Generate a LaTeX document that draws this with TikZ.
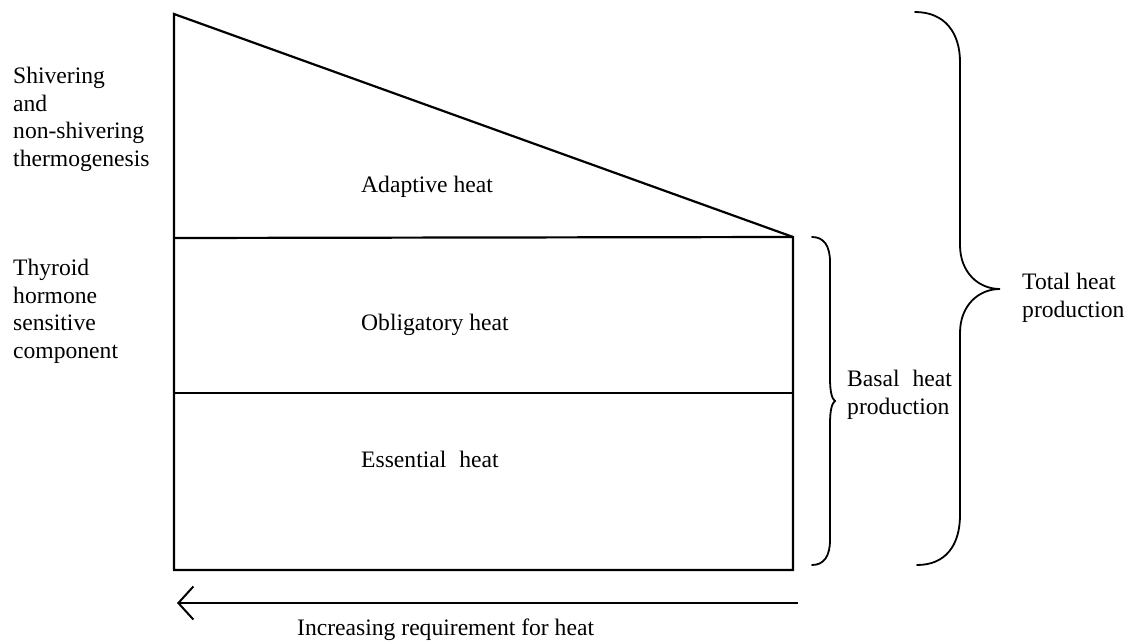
\documentclass[tikz,border=0pt]{standalone}
\usepackage{fontspec}
\setmainfont{Liberation Serif}
\usetikzlibrary{arrows.meta}
\begin{document}
\begin{tikzpicture}[x=1pt,y=-1pt,
  shapeline/.style={line width=2.2pt, line join=miter},
  braceline/.style={line width=1.8pt, line cap=round},
  lbl/.style={inner sep=0pt, font=\fontsize{23.6}{27.5}\selectfont},
  side/.style={lbl, align=left, anchor=north west},
]
\useasboundingbox (0,0) rectangle (1141,642);
% frame
\coordinate (TL) at (174,14);
\coordinate (BL) at (174,570);
\coordinate (BR) at (793,570);
\coordinate (TR) at (793,237);
\coordinate (ML) at (174,238);
\coordinate (LL) at (174,393);
\coordinate (LR) at (793,393);
\draw[shapeline] (TL) -- (BL) -- (BR) -- (TR) -- cycle;
\draw[shapeline] (ML) -- (TR);
\draw[shapeline] (LL) -- (LR);
% arrow
\coordinate (AS) at (798,603);
\coordinate (AE) at (177,603);
\draw[line width=2.2pt, -{Straight Barb[length=15pt,width=33pt,line width=2pt]}] (AS) -- (AE);
% basal brace
\coordinate (BBt) at (812,237);
\coordinate (BBm) at (835,401);
\coordinate (BBb) at (812,565);
\draw[braceline] (BBt) .. controls (824,237) and (830,246) .. (830,262)
  -- (830,378) .. controls (830,392) and (832,399) .. (BBm)
  .. controls (832,403) and (830,410) .. (830,424)
  -- (830,540) .. controls (830,556) and (824,565) .. (BBb);
% total brace
\coordinate (TBt) at (915,12);
\coordinate (TBm) at (1000,289);
\coordinate (TBb) at (917,565);
\draw[braceline] (TBt) .. controls (945,12) and (960,33) .. (960,62)
  -- (960,245) .. controls (960,272) and (978,289) .. (TBm)
  .. controls (978,289) and (960,306) .. (960,333)
  -- (960,515) .. controls (960,546) and (945,565) .. (TBb);
% labels
\node[side] (shiv) at (13,67) {Shivering\\and\\non-shivering\\thermogenesis};
\node[side] (thyr) at (13,259) {Thyroid\\hormone\\sensitive\\component};
\node[lbl, anchor=base west] (adapt) at (361,192) {Adaptive heat};
\node[lbl, anchor=base west] (oblig) at (361,330) {Obligatory heat};
\node[lbl, anchor=base west] (essen) at (361,467) {Essential\hspace{0.55em}heat};
\node[lbl, anchor=base west] (incr) at (297,635) {Increasing requirement for heat};
\node[lbl, align=left, anchor=north west] (basal) at (847,370) {Basal\hspace{0.55em}heat\\production};
\node[lbl, align=left, anchor=north west] (total) at (1022,273) {Total heat\\production};
\end{tikzpicture}
\end{document}
